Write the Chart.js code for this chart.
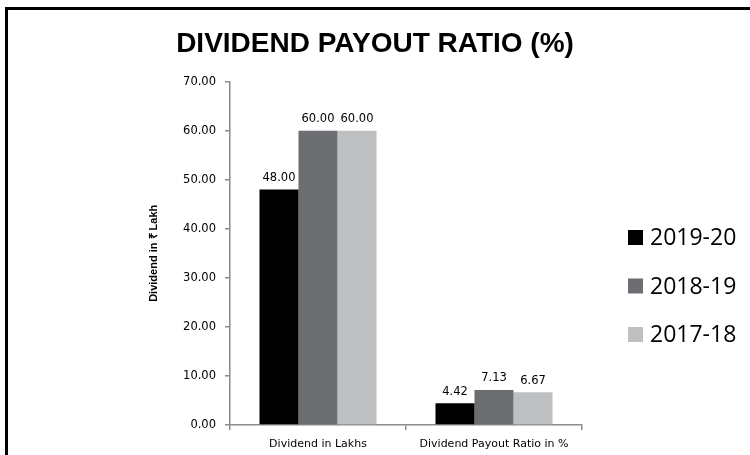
<!DOCTYPE html>
<html>
<head>
<meta charset="utf-8">
<script src="https://cdn.jsdelivr.net/npm/chart.js@4"></script>
<style>
  body { margin: 0; background: #fff; }
  .frame { position: absolute; left: 5px; top: 7px; width: 745px; height: 448px; border-top: 3px solid #000; border-left: 3px solid #000; }
  #myChart { position: absolute; left: 0; top: 0; }
</style>
</head>
<body>
<div class="frame"></div>
<canvas id="myChart" width="750" height="455"></canvas>
<script>
const categories = ['Dividend in Lakhs', 'Dividend Payout Ratio in %'];
const years = ['2019-20', '2018-19', '2017-18'];
const values2019 = [48.00, 4.42];
const values2018 = [60.00, 7.13];
const values2017 = [60.00, 6.67];
const yTicks = [0, 10, 20, 30, 40, 50, 60, 70];
const barColors = ['#000000', '#6d6e71', '#bebfc1'];

const axisGray = '#8c8c8c';

// value labels above each bar
const barLabels = {
    id: 'barLabels',
    afterDatasetsDraw(chart) {
        const ctx = chart.ctx;
        ctx.save();
        ctx.font = '11.5px "DejaVu Sans"';
        ctx.fillStyle = '#000';
        ctx.textAlign = 'center';
        ctx.textBaseline = 'bottom';
        chart.data.datasets.forEach((ds, i) => {
            chart.getDatasetMeta(i).data.forEach((bar, j) => {
                ctx.fillText(ds.data[j].toFixed(2), bar.x, bar.y - 6);
            });
        });
        ctx.restore();
    }
};

// legend on the right, Excel style
const sideLegend = {
    id: 'sideLegend',
    afterDraw(chart) {
        const ctx = chart.ctx;
        const x = chart.chartArea.right + 46;
        ctx.save();
        ctx.font = '23px "Open Sans"';
        ctx.textBaseline = 'middle';
        ctx.textAlign = 'left';
        chart.data.datasets.forEach((ds, i) => {
            const y = 237.5 + i * 48.5;
            ctx.fillStyle = ds.backgroundColor;
            ctx.fillRect(x, y - 7.5, 15, 15);
            ctx.fillStyle = '#000';
            ctx.fillText(ds.label, x + 22, y + 1);
        });
        ctx.restore();
    }
};

let ctx = document.getElementById('myChart').getContext('2d');
new Chart(ctx, {
    type: 'bar',
    data: {
        labels: categories,
        datasets: [
            { label: years[0], data: values2019, backgroundColor: barColors[0] },
            { label: years[1], data: values2018, backgroundColor: barColors[1] },
            { label: years[2], data: values2017, backgroundColor: barColors[2] }
        ]
    },
    options: {
        responsive: false,
        animation: false,
        layout: { padding: 0 },
        datasets: { bar: { categoryPercentage: 0.665, barPercentage: 1 } },
        plugins: {
            legend: { display: false },
            tooltip: { enabled: false },
            title: {
                display: true,
                text: 'DIVIDEND PAYOUT RATIO (%)',
                color: '#000',
                font: { family: '"Liberation Sans"', size: 28, weight: 'bold' },
                padding: { top: 27, bottom: 21 }
            }
        },
        scales: {
            x: {
                afterFit: (scale) => { scale.height = 30; },
                border: { color: axisGray, width: 1.5 },
                grid: { offset: true, drawOnChartArea: false, tickLength: 5, color: axisGray, lineWidth: 1.5 },
                ticks: { color: '#000', padding: 8, font: { family: '"DejaVu Sans"', size: 11 } }
            },
            y: {
                min: 0,
                max: 70,
                afterFit: (scale) => { scale.width = 230; },
                afterBuildTicks: (scale) => { scale.ticks = yTicks.map(v => ({ value: v })); },
                border: { color: axisGray, width: 1.5 },
                grid: { drawOnChartArea: false, tickLength: 5, color: axisGray, lineWidth: 1.5 },
                ticks: {
                    color: '#000',
                    padding: 9,
                    font: { family: '"DejaVu Sans"', size: 11.5 },
                    callback: (v) => Number(v).toFixed(2)
                },
                title: {
                    display: true,
                    text: 'Dividend in ₹ Lakh',
                    color: '#000',
                    padding: { top: 147, bottom: 0 },
                    font: { family: '"Liberation Sans"', size: 11, weight: 'bold' }
                }
            },
            // empty box on the right that leaves room for the legend
            legendSpace: {
                type: 'linear',
                position: 'right',
                display: true,
                afterFit: (scale) => { scale.width = 168; },
                grid: { display: false },
                border: { display: false },
                ticks: { display: false }
            }
        }
    },
    plugins: [barLabels, sideLegend]
});
</script>
</body>
</html>
